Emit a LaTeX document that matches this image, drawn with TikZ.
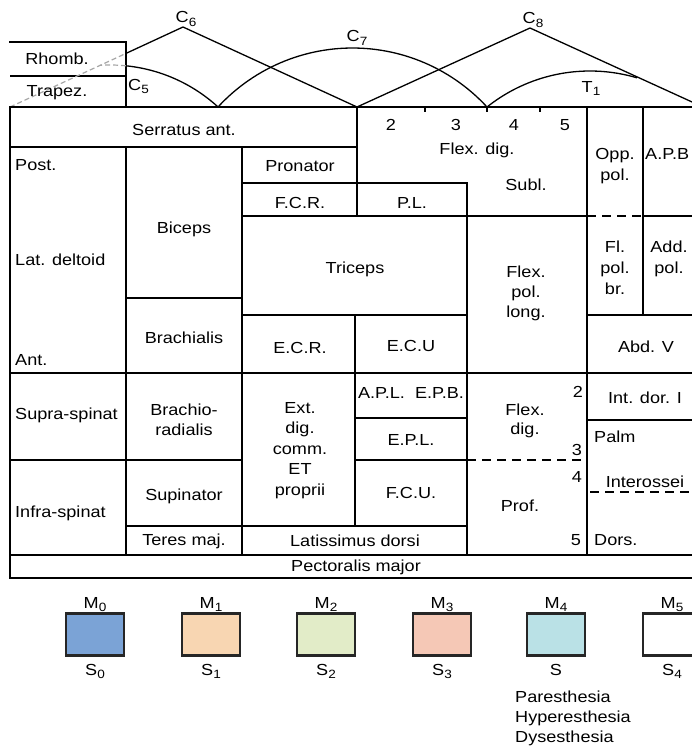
\documentclass[tikz,border=0pt]{standalone}
\usepackage{fontspec}
\setmainfont{Liberation Sans}[FakeStretch=1.13]
\newcommand\tabfont{\fontsize{16bp}{20bp}\selectfont}
\newcommand\subs[1]{\raisebox{-0.22em}{\fontsize{12bp}{12bp}\selectfont #1}}
\definecolor{mzero}{RGB}{123,163,214}
\definecolor{mone}{RGB}{248,214,178}
\definecolor{mtwo}{RGB}{226,236,200}
\definecolor{mthree}{RGB}{245,200,182}
\definecolor{mfour}{RGB}{186,225,230}
\begin{document}
\begin{tikzpicture}[x=1bp,y=-1bp,
  grid/.style={line width=2bp, line cap=rect},
  dgrid/.style={line width=2bp, dash pattern=on 9bp off 6bp},
  curve/.style={line width=1.3bp},
  ghost/.style={line width=1.2bp, gray!70, dash pattern=on 5bp off 3bp},
  txt/.style={inner sep=0pt, anchor=base, font=\tabfont},
  txl/.style={txt, anchor=base west},
  key/.style={line width=2.3bp, draw=black!85}]
\useasboundingbox (0,0) rectangle (692,748);
\clip (0,0) rectangle (692,748);

% ---------- top: rhomb / trapez ----------
\draw[grid] (10,42) -- (126,42) -- (126,107);
\draw[line width=2.8bp] (10,76) -- (126,76);
\draw[ghost] (10,107) -- (126,53.4);
\draw[ghost] plot[domain=84.26:93.6, samples=10] ({110+160*cos(\x)}, {225-160*sin(\x)});

% ---------- dermatome curves ----------
\draw[curve] (126,53.4) -- (183,27) -- (357,107);
\draw[curve] (357,107) -- (530,28) -- (703,107);
\draw[curve] plot[domain=47.5:84.26, samples=40] ({110+160*cos(\x)}, {225-160*sin(\x)});
\draw[curve] plot[domain=42.63:137.37, samples=60] ({352.5+182.8*cos(\x)}, {230.8-182.8*sin(\x)});
\draw[curve] plot[domain=73.5:128.5, samples=40] ({590+165.3*cos(\x)}, {236.3-165.3*sin(\x)});

\node[txt] (rhomb) at (57,65) {Rhomb.};
\node[txt] (trapez) at (57,96) {Trapez.};
\node[txl] (c5) at (128,90) {C\subs{5}};
\node[txt] (c6) at (186,23) {C\subs{6}};
\node[txt] (c7) at (357,42) {C\subs{7}};
\node[txt] (c8) at (533,24) {C\subs{8}};
\node[txt] (t1) at (591,92) {T\subs{1}};

% ---------- table grid ----------
\draw[grid] (10,107) -- (705,107);
\draw[grid] (10,107) -- (10,578) -- (705,578);
\draw[grid] (10,147) -- (357,147);
\draw[grid] (357,107) -- (357,216);
\draw[grid] (126,147) -- (126,555);
\draw[grid] (242,147) -- (242,555);
\draw[grid] (242,183) -- (467,183);
\draw[grid] (467,183) -- (467,555);
\draw[grid] (242,216) -- (587,216);
\draw[dgrid] (587,216) -- (643,216);
\draw[grid] (643,216) -- (705,216);
\draw[grid] (587,107) -- (587,555);
\draw[grid] (643,107) -- (643,315);
\draw[grid] (126,298) -- (242,298);
\draw[grid] (242,315) -- (467,315);
\draw[grid] (587,315) -- (705,315);
\draw[grid] (355,315) -- (355,526);
\draw[grid] (10,373) -- (705,373);
\draw[grid] (355,418) -- (467,418);
\draw[grid] (587,420) -- (705,420);
\draw[grid] (10,460) -- (242,460);
\draw[grid] (355,460) -- (467,460);
\draw[dgrid] (467,460) -- (587,460);
\draw[dgrid] (590,492) -- (705,492);
\draw[grid] (126,526) -- (467,526);
\draw[grid] (10,555) -- (705,555);
\foreach \tx in {425,487,540} \draw[line width=1.2bp] (\tx,107) -- (\tx,112);

% ---------- table text ----------
\node[txt] (serr) at (184,135) {Serratus ant.};
\node[txl] (post) at (15,170) {Post.};
\node[txl] (latd) at (15,265) {Lat. deltoid};
\node[txl] (ant) at (15,365) {Ant.};
\node[txt] (bic) at (184,233) {Biceps};
\node[txt] (brach) at (184,343) {Brachialis};
\node[txt] (pron) at (300,171) {Pronator};
\node[txt] (fcr) at (300,208) {F.C.R.};
\node[txt] (pl) at (412,208) {P.L.};
\node[txt] (tric) at (355,273) {Triceps};
\node[txt] (d2) at (391,130) {2};
\node[txt] (d3) at (456,130) {3};
\node[txt] (d4) at (514,130) {4};
\node[txt] (d5) at (565,130) {5};
\node[txt] (fds) at (477,154) {Flex. dig.};
\node[txt] (subl) at (526,190) {Subl.};
\node[txt] (opp1) at (615,159) {Opp.};
\node[txt] (opp2) at (615,180) {pol.};
\node[txl] (apb) at (645,159) {A.P.B};
\node[txt] (fl1) at (615,252) {Fl.};
\node[txt] (fl2) at (615,273) {pol.};
\node[txt] (fl3) at (615,294) {br.};
\node[txt] (add1) at (669,252) {Add.};
\node[txt] (add2) at (669,273) {pol.};
\node[txt] (fpl1) at (526,277) {Flex.};
\node[txt] (fpl2) at (526,297) {pol.};
\node[txt] (fpl3) at (526,317) {long.};
\node[txt] (ecr) at (300,353) {E.C.R.};
\node[txt] (ecu) at (411,351) {E.C.U};
\node[txt] (abd) at (646,352) {Abd. V};
\node[txl] (supra) at (15,419) {Supra-spinat};
\node[txt] (br1) at (184,415) {Brachio-};
\node[txt] (br2) at (184,435) {radialis};
\node[txt] (ext1) at (300,413) {Ext.};
\node[txt] (ext2) at (300,433.5) {dig.};
\node[txt] (ext3) at (300,454) {comm.};
\node[txt] (ext4) at (300,474.5) {ET};
\node[txt] (ext5) at (300,495) {proprii};
\node[txt] (apl) at (411,398) {A.P.L.\ \ E.P.B.};
\node[txt] (epl) at (411,445) {E.P.L.};
\node[txt] (fcu) at (411,498) {F.C.U.};
\node[txt] (fdp1) at (525,415) {Flex.};
\node[txt] (fdp2) at (525,434) {dig.};
\node[txt] (prof) at (520,511) {Prof.};
\node[txt] (p2) at (578,397) {2};
\node[txt] (p3) at (577,455) {3};
\node[txt] (p4) at (577,482) {4};
\node[txt] (p5) at (576,545) {5};
\node[txt] (idor) at (645,403) {Int. dor. I};
\node[txl] (palm) at (594,442) {Palm};
\node[txt] (inter) at (645,487) {Interossei};
\node[txl] (dors) at (594,545) {Dors.};
\node[txl] (infra) at (15,517) {Infra-spinat};
\node[txt] (sup) at (184,500) {Supinator};
\node[txt] (teres) at (184,545) {Teres maj.};
\node[txt] (lat) at (355,546) {Latissimus dorsi};
\node[txt] (pect) at (356,571) {Pectoralis major};

% ---------- legend ----------
\foreach \cx/\col/\m/\s [count=\i] in {95/mzero/0/{S\subs{0}}, 211/mone/1/{S\subs{1}}, 326/mtwo/2/{S\subs{2}}, 442/mthree/3/{S\subs{3}}, 556/mfour/4/{S}, 672/white/5/{S\subs{4}}} {
  \node[key, fill=\col, minimum width=58bp, minimum height=42bp, inner sep=0pt] (box\i) at (\cx,634.5) {};
  \node[txt] (m\i) at (\cx,608) {M\subs{\m}};
  \node[txt] (s\i) at (\cx,675) {\s};
}
\node[txl] (par) at (515,702) {Paresthesia};
\node[txl] (hyp) at (515,722) {Hyperesthesia};
\node[txl] (dys) at (515,742) {Dysesthesia};
\end{tikzpicture}
\end{document}
